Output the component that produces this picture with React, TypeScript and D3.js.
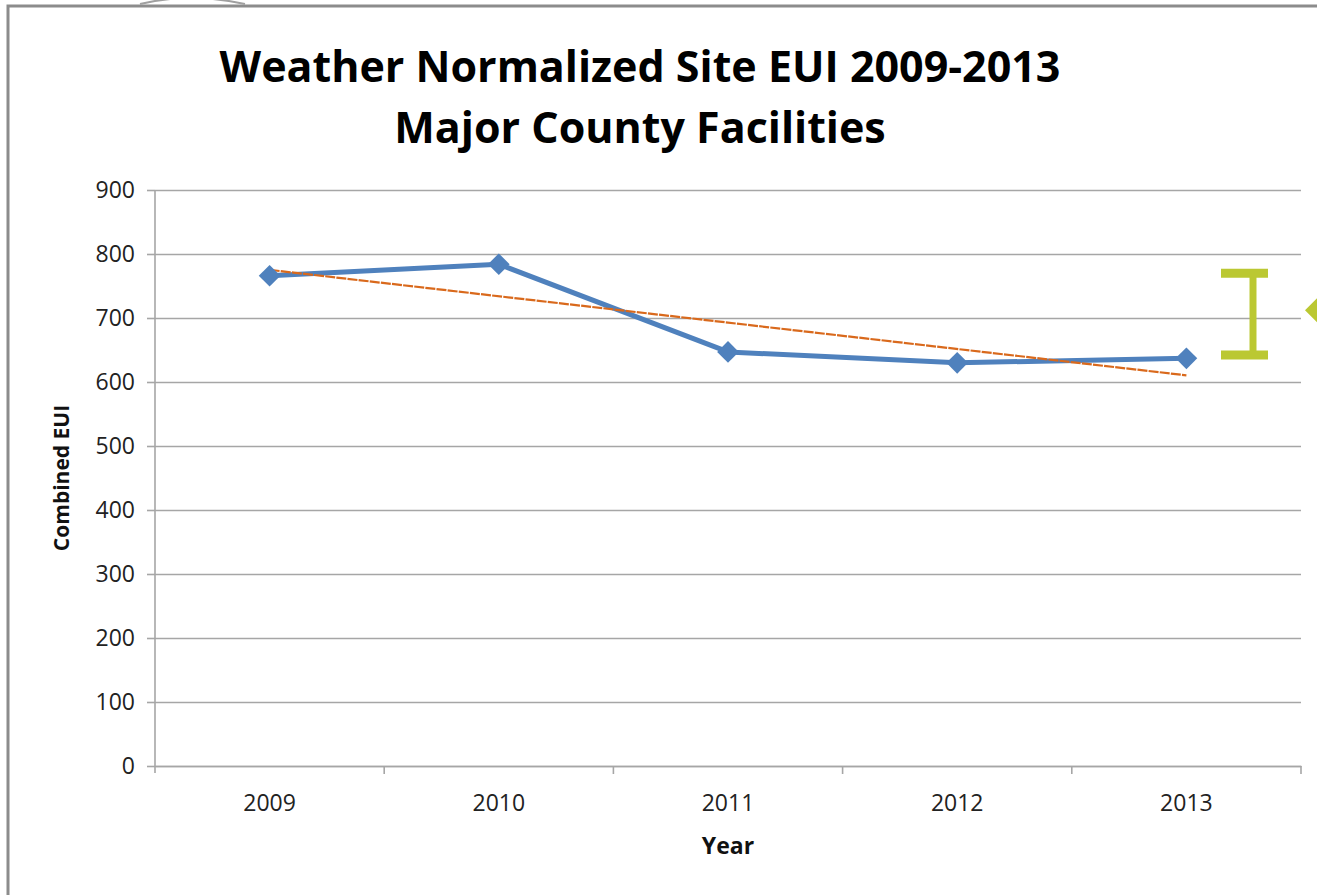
import React, { useEffect, useRef } from 'react';
import * as d3 from 'd3';

const years = ['2009', '2010', '2011', '2012', '2013'];
const combinedEui = [766, 784, 647, 630, 637];
const yTicks = [0, 100, 200, 300, 400, 500, 600, 700, 800, 900];
const titleLines = ['Weather Normalized Site EUI 2009-2013', 'Major County Facilities'];
// annotation bracket drawn beside the chart (EUI range)
const bracketRange = [770, 642];

export default function App() {
  const svgRef = useRef<SVGSVGElement>(null);
  const width = 1317;
  const height = 895;

  useEffect(() => {
    if (!svgRef.current) return;
    const svg = d3.select(svgRef.current);
    svg.selectAll('*').remove();

    const margin = { top: 190, right: 16, bottom: 129, left: 155 };
    const chartW = width - margin.left - margin.right;
    const chartH = height - margin.top - margin.bottom;
    const font = 'Open Sans, Lato, sans-serif';

    svg.append('rect').attr('width', width).attr('height', height).attr('fill', '#fff');

    // outer chart frame (clipped right/bottom)
    svg.append('rect')
      .attr('x', 8).attr('y', 6)
      .attr('width', width + 20).attr('height', height + 20)
      .attr('fill', 'none').attr('stroke', '#8c8c8c').attr('stroke-width', 3);

    // faint arc peeking at top
    svg.append('path')
      .attr('d', 'M140,4 Q190,-8 245,4')
      .attr('fill', 'none').attr('stroke', '#a0a0a0').attr('stroke-width', 2);

    const x = d3.scaleBand().domain(years).range([0, chartW]);
    const y = d3.scaleLinear().domain([0, 900]).range([chartH, 0]);

    const g = svg.append('g').attr('transform', `translate(${margin.left},${margin.top})`);

    // gridlines
    g.append('g')
      .call(d3.axisLeft(y).tickValues(yTicks).tickSize(-chartW).tickFormat(() => ''))
      .call(s => s.select('.domain').remove())
      .selectAll('line').attr('stroke', '#a6a6a6').attr('stroke-width', 1.6);

    // y axis
    const ya = g.append('g')
      .call(d3.axisLeft(y).tickValues(yTicks).tickSize(8).tickPadding(12).tickFormat(d3.format('d')));
    ya.select('.domain').attr('stroke', '#a6a6a6').attr('stroke-width', 1.6).attr('d', `M0,${chartH + 7}V0`);
    ya.selectAll('line').attr('stroke', '#a6a6a6').attr('stroke-width', 1.6);
    ya.selectAll('text').attr('font-family', font).attr('font-size', 23).attr('fill', '#222');

    // x axis
    const xa = g.append('g').attr('transform', `translate(0,${chartH})`)
      .call(d3.axisBottom(x).tickSize(0).tickPadding(29));
    xa.select('.domain').attr('stroke', '#a6a6a6').attr('stroke-width', 1.6);
    xa.selectAll('text').attr('font-family', font).attr('font-size', 23).attr('fill', '#222');
    // category boundary ticks
    xa.selectAll('.bound')
      .data(years.slice(1).concat(['end']))
      .enter().append('line')
      .attr('x1', (d, i) => (i + 1) * x.bandwidth())
      .attr('x2', (d, i) => (i + 1) * x.bandwidth())
      .attr('y1', 0).attr('y2', 8)
      .attr('stroke', '#a6a6a6').attr('stroke-width', 1.6);

    const cx = (d: string) => (x(d) || 0) + x.bandwidth() / 2;

    // linear trend line
    const n = combinedEui.length;
    const xs = d3.range(1, n + 1);
    const mx = d3.mean(xs) || 0;
    const my = d3.mean(combinedEui) || 0;
    const slope = d3.sum(xs, (v, i) => (v - mx) * (combinedEui[i] - my)) / d3.sum(xs, v => (v - mx) ** 2);
    const trend = xs.map(v => my + slope * (v - mx));

    // series line
    const line = d3.line<number>().x((d, i) => cx(years[i])).y(d => y(d));
    g.append('path').datum(combinedEui)
      .attr('d', line).attr('fill', 'none')
      .attr('stroke', '#4f81bd').attr('stroke-width', 5).attr('stroke-linejoin', 'round');

    g.append('line')
      .attr('x1', cx(years[0])).attr('y1', y(trend[0]))
      .attr('x2', cx(years[n - 1])).attr('y2', y(trend[n - 1]))
      .attr('stroke', '#d9691c').attr('stroke-width', 2.2)
      .attr('stroke-dasharray', '10,1.2');

    g.selectAll('.marker').data(combinedEui).enter().append('path')
      .attr('d', d3.symbol().type(d3.symbolDiamond2).size(300)())
      .attr('transform', (d, i) => `translate(${cx(years[i])},${y(d)})`)
      .attr('fill', '#4f81bd');

    // axis titles
    svg.append('text').attr('x', margin.left + chartW / 2).attr('y', 854)
      .attr('text-anchor', 'middle').attr('font-family', font).attr('font-weight', 700)
      .attr('font-size', 23).attr('fill', '#111').text('Year');
    svg.append('text')
      .attr('transform', `translate(69,${margin.top + chartH / 2}) rotate(-90)`)
      .attr('text-anchor', 'middle').attr('font-family', font).attr('font-weight', 700)
      .attr('font-size', 21).attr('fill', '#111').text('Combined EUI');

    // title
    titleLines.forEach((t, i) => {
      svg.append('text').attr('x', 640).attr('y', 82 + i * 61)
        .attr('text-anchor', 'middle').attr('font-family', font).attr('font-weight', 700)
        .attr('font-size', 43).attr('fill', '#000').text(t);
    });

    // green I-bracket annotation and arrow
    const bx = 1253;
    const green = '#bbc832';
    const bt = y(bracketRange[0]) + margin.top;
    const bb = y(bracketRange[1]) + margin.top;
    svg.append('line').attr('x1', bx).attr('x2', bx).attr('y1', bt).attr('y2', bb)
      .attr('stroke', green).attr('stroke-width', 7);
    [bt, bb].forEach(v => {
      svg.append('line').attr('x1', bx - 32).attr('x2', bx + 15).attr('y1', v).attr('y2', v)
        .attr('stroke', green).attr('stroke-width', 9);
    });
    const my2 = (bt + bb) / 2 - 4;
    svg.append('path')
      .attr('d', `M1305,${my2} L1323,${my2 - 18} L1323,${my2 + 18} Z`)
      .attr('fill', green);
  }, []);

  return (
    <svg ref={svgRef} width={width} height={height}
      style={{ position: 'absolute', left: 0, top: 0, display: 'block' }} />
  );
}
